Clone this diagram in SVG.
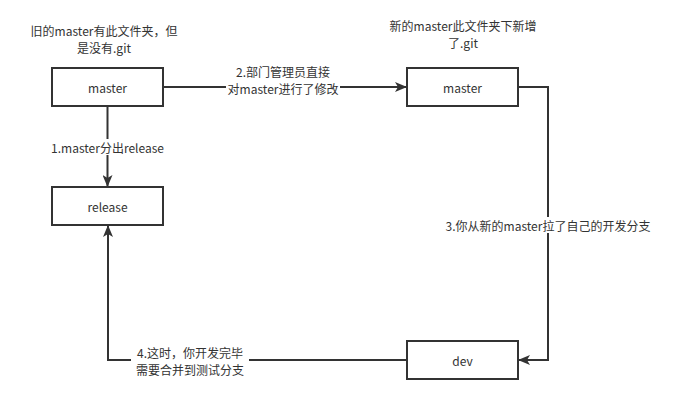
<svg xmlns="http://www.w3.org/2000/svg" width="698" height="408" viewBox="0 0 698 408">
<style>
.box{fill:#fff;stroke:#333;stroke-width:2}
.ln{fill:none;stroke:#333;stroke-width:2}
text{font-family:"Noto Sans CJK SC","Noto Sans",sans-serif;font-size:12px;fill:#333;text-anchor:middle;dominant-baseline:central}
.bg{fill:#fff}
</style>
<defs>
<marker id="arr" viewBox="0 0 12 10" refX="11" refY="5" markerWidth="12" markerHeight="10" markerUnits="userSpaceOnUse" orient="auto">
<path d="M0,0 L12,5 L0,10 L3,5 Z" fill="#333"/>
</marker>
</defs>
<rect width="698" height="408" fill="#fff"/>
<g id="connectors">
<path class="ln" d="M163,87 L406,87" marker-end="url(#arr)"/>
<path class="ln" d="M107.5,106 L107.5,186" marker-end="url(#arr)"/>
<path class="ln" d="M518,87 L548,87 L548,360 L519,360" marker-end="url(#arr)"/>
<path class="ln" d="M407,360 L108,360 L108,226" marker-end="url(#arr)"/>
</g>
<g id="label-old">
<text x="104" y="30">旧的master有此文件夹，但</text>
<text x="104" y="47">是没有.git</text>
</g>
<g id="label-new">
<text x="463" y="25">新的master此文件夹下新增</text>
<text x="463" y="42">了.git</text>
</g>
<g id="label-2">
<rect class="bg" x="226" y="64" width="114" height="32"/>
<text x="283" y="71">2.部门管理员直接</text>
<text x="283" y="88">对master进行了修改</text>
</g>
<g id="label-1">
<rect class="bg" x="48" y="139" width="120" height="16"/>
<text x="107.5" y="147">1.master分出release</text>
</g>
<g id="label-3">
<rect class="bg" x="438" y="217" width="220" height="16"/>
<text x="548" y="225">3.你从新的master拉了自己的开发分支</text>
</g>
<g id="label-4">
<rect class="bg" x="131" y="344" width="118" height="34"/>
<text x="190" y="352">4.这时，你开发完毕</text>
<text x="190" y="369">需要合并到测试分支</text>
</g>
<g id="master-old">
<rect class="box" x="52" y="68" width="111" height="38"/>
<text x="107.5" y="87">master</text>
</g>
<g id="master-new">
<rect class="box" x="407" y="68" width="111" height="38"/>
<text x="462.5" y="87">master</text>
</g>
<g id="release">
<rect class="box" x="52" y="187" width="111" height="38"/>
<text x="107.5" y="206">release</text>
</g>
<g id="dev">
<rect class="box" x="407" y="341" width="111" height="38"/>
<text x="462.5" y="360">dev</text>
</g>
</svg>
